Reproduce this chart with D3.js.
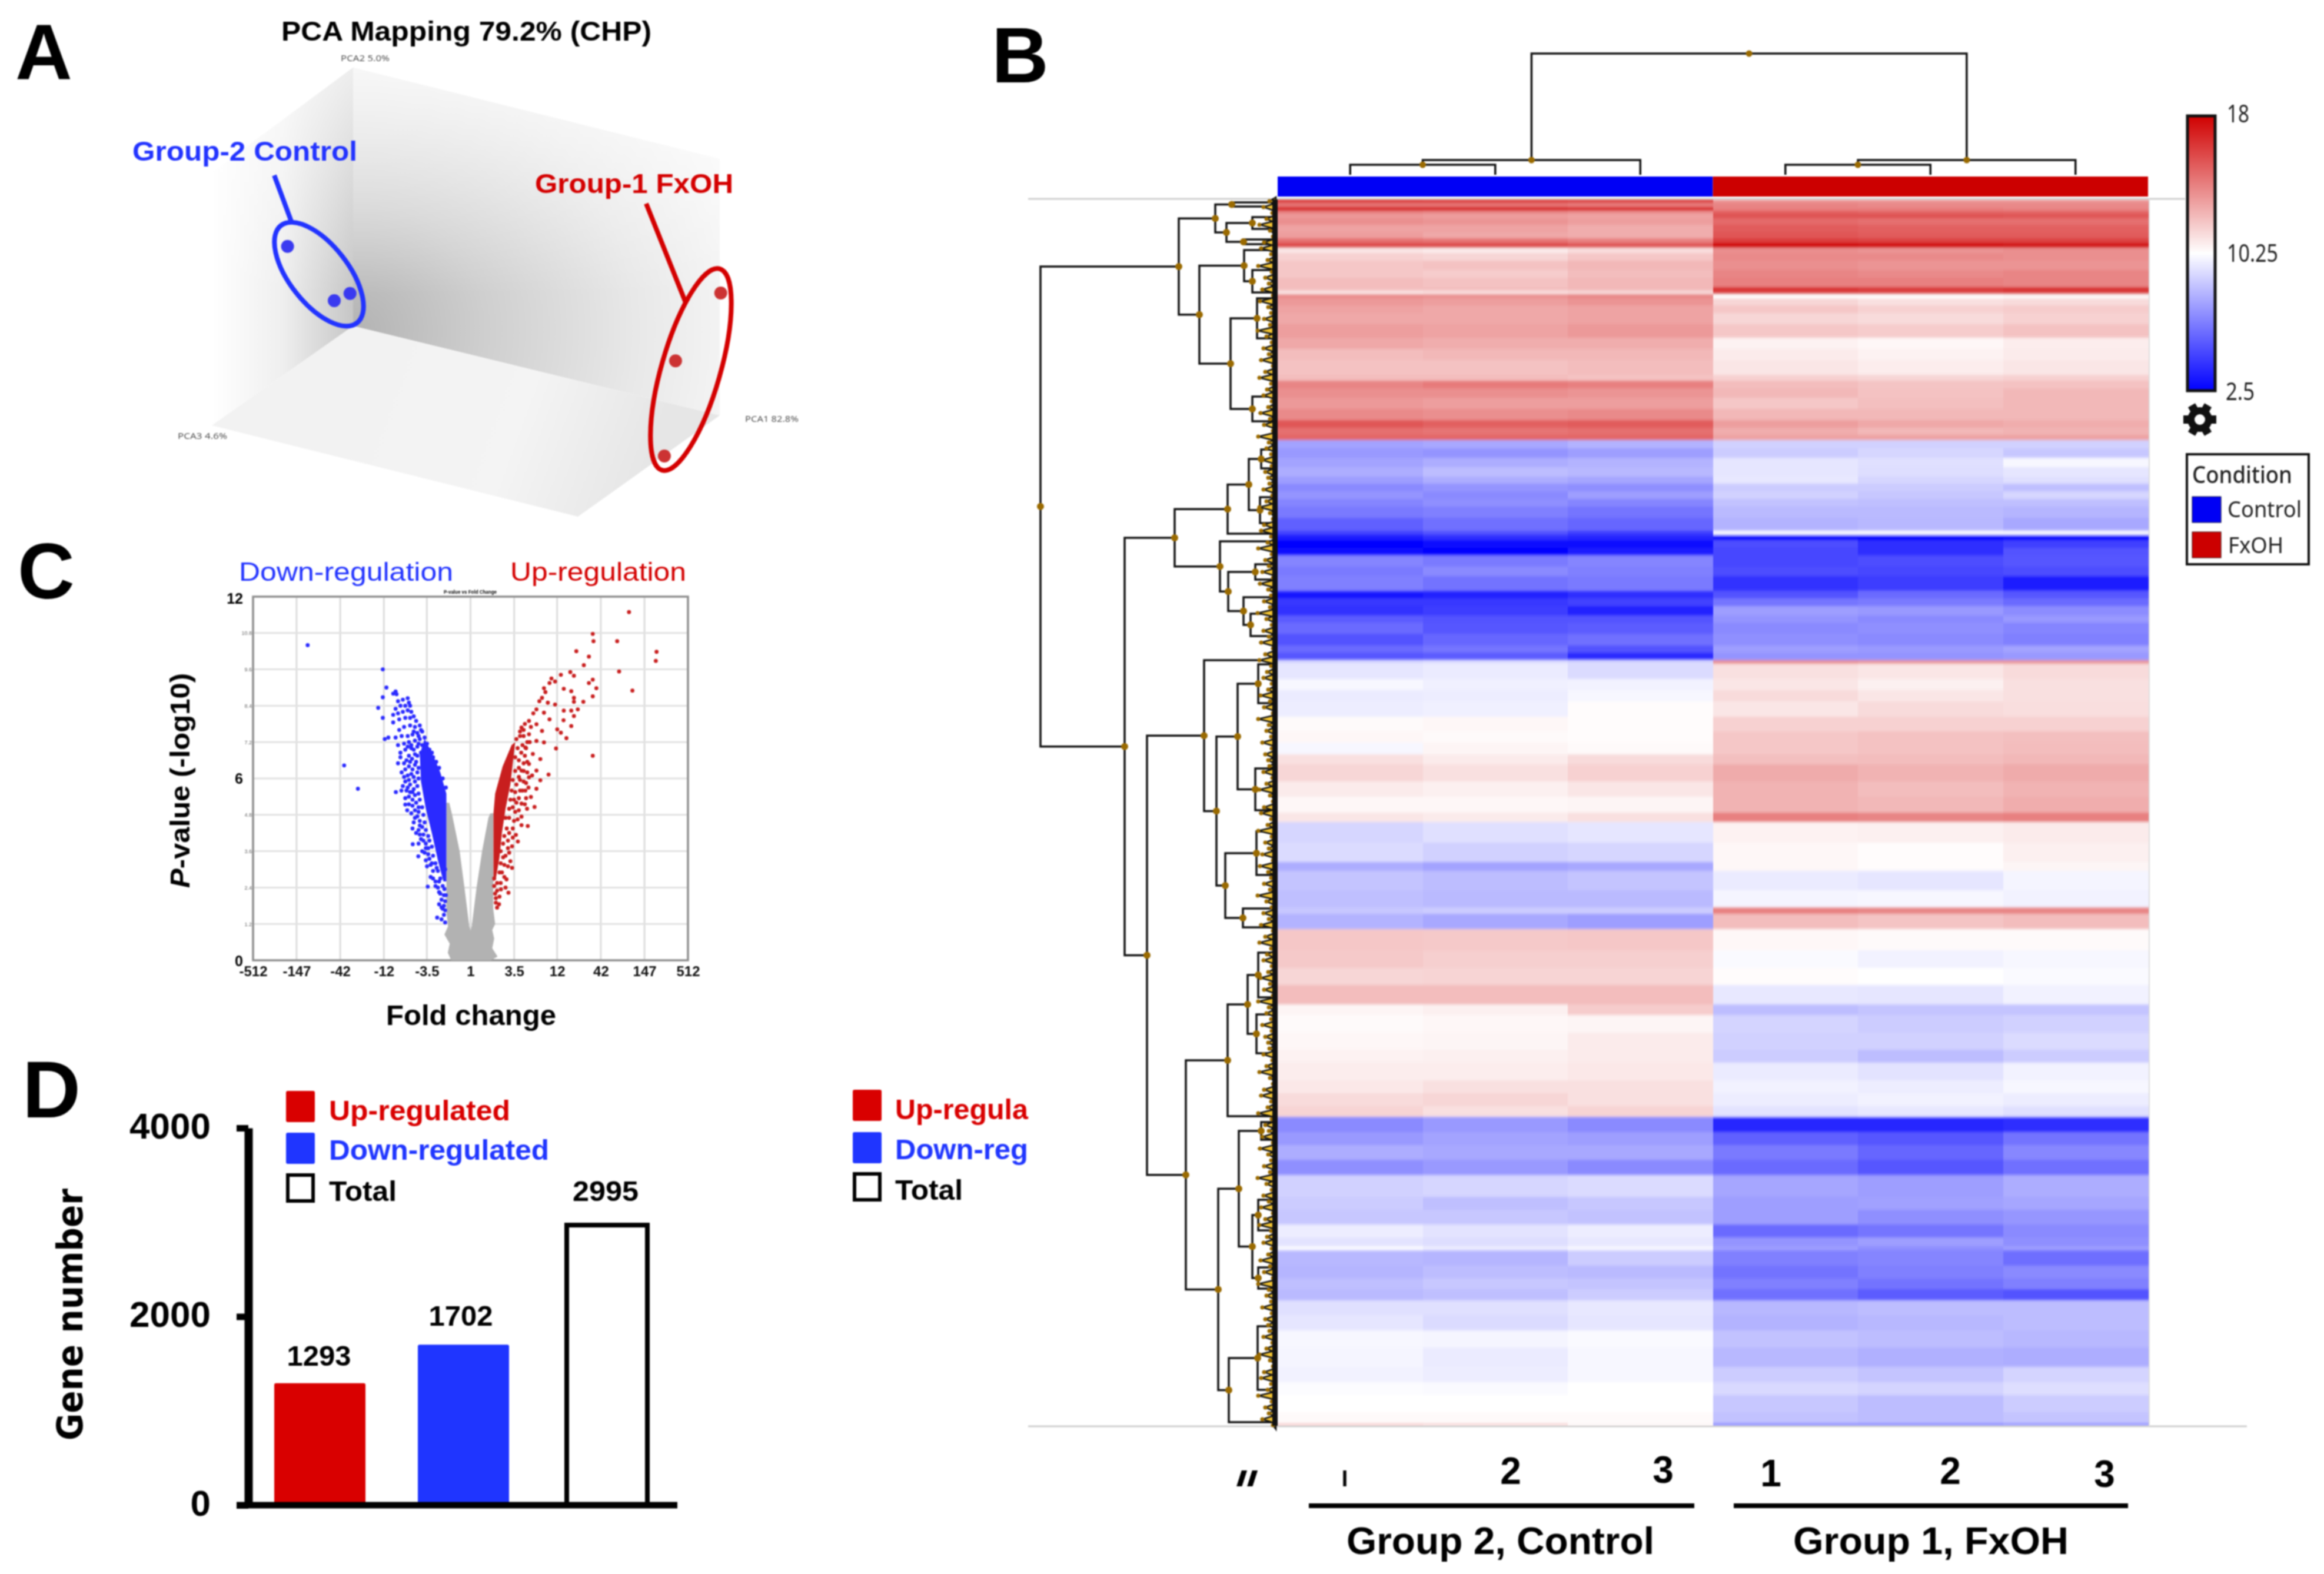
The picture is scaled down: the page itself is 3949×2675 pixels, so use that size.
<!DOCTYPE html>
<html><head><meta charset="utf-8">
<script src="https://cdnjs.cloudflare.com/ajax/libs/d3/7.8.5/d3.min.js"></script>
<style>html,body{margin:0;padding:0;background:#fff}svg{display:block;filter:blur(0.8px)}text{font-family:"Liberation Sans",Arial,sans-serif}</style>
</head><body><svg id="c" width="3949" height="2675" viewBox="0 0 3949 2675"></svg>
<script>
// ---------- Panel A data (projected position in the box, percent) ----------
const pcaControl=[[14.9,39.8],[24.1,51.9],[27.2,50.3]];
const pcaFxOH=[[100.2,50.2],[91.3,65.3],[89.1,86.5]];
// ---------- Panel C data: log2 fold change, -log10 p ----------
const foldTicks=[-512,-147,-42,-12,-3.5,1,3.5,12,42,147,512];
const pTicks=[0,1.2,2.4,3.6,4.8,6,7.2,8.4,9.6,10.8,12];
const grayCloud=[[-1,5.2],[-1,1.6],[-.93,1.12],[-1.08,.85],[-.86,.55],[-.94,.25],[-.8,0],[.85,0],[1.12,.12],[.9,.4],[.98,.72],[.9,1],[1.02,1.2],[.94,1.7],[.95,4.85],[.82,4.85],[.74,4.7],[.48,3.6],[.25,2.4],[.05,1.12],[0,.98],[-.05,1.12],[-.25,2.4],[-.45,3.6],[-.76,4.8],[-.88,5.2]];
const blueCore=[[-1,5.5],[-1.25,6.2],[-1.46,6.6],[-1.7,7],[-1.9,7.3],[-2.1,6.8],[-2.05,5.9],[-1.85,5],[-1.6,4.2],[-1.35,3.3],[-1.12,2.6],[-1,2.6]];
const bluePoints=[[-6.74,10.4],[-5.23,6.43],[-4.66,5.66],[-3.63,9.6],[-3.48,9],[-3.63,8.68],[-3.82,8.33],[-3.63,8],[-3.1,8.87],[-3.06,8.78],[-1.77,2.43],[-1.38,1.41],[-2.39,3.83],[-2.16,3.43],[-3.09,5.55],[-2.86,5.6],[-2.7,5.14],
[-3.2,8.8],[-3,8.55],[-2.8,8.6],[-2.6,8.65],[-2.55,8.5],[-2.5,8.4],[-2.7,8.4],[-2.9,8.4],[-3.1,8.3],[-3.2,8.1],[-3,8.15],[-2.8,8.2],[-2.6,8.25],[-2.45,8.2],[-2.35,8.05],[-2.5,8],[-2.7,8],[-2.95,7.95],[-3.2,7.85],[-2.25,7.9],[-2.1,7.75],[-2.3,7.7],[-2.5,7.75],[-2.75,7.7],[-2.95,7.6],[-2,7.55],[-2.2,7.5],[-2.4,7.45],[-2.6,7.4],[-2.85,7.4],[-3.1,7.35],[-3.4,7.35],[-3.55,7.3],[-1.9,7.35],[-2.1,7.3],[-2.3,7.25],[-2.55,7.2],[-2.75,7.15],[-3,7.1],[-1.8,7.15],[-2,7.1],[-2.2,7.05],[-2.45,7],[-2.7,6.95],[-2.9,6.85],[-1.7,6.95],[-1.85,6.9],[-2.05,6.85],[-2.3,6.8],[-2.55,6.75],[-2.9,6.7],[-3,6.5],[-2.75,6.5],[-2.5,6.55],[-1.55,6.7],[-2.25,6.55],[-1.95,6.55],[-2.7,6.3],[-2.4,6.3],[-2.15,6.35],[-2.85,6.2],[-2.6,6.1],[-2.35,6.05],[-2.7,5.9],[-2.5,5.8],[-2.35,5.65],[-2.65,5.6],[-2.55,5.4],[-2.4,5.3],[-2.25,5.2],[-2.55,5.15],[-2.3,4.95],[-2.2,4.75],[-2.1,4.6],[-2.35,4.55],[-2,4.4],[-2.15,4.3],[-1.95,4.15],[-2.05,4],[-1.85,3.85],[-1.75,3.7],[-1.9,3.55],[-1.7,3.35],[-1.6,3.2],[-1.8,3.1],[-1.55,2.95],[-1.65,2.75],[-1.45,2.6],[-1.35,2.4],[-1.25,2.2],[-1.2,2],[-1.3,1.85],[-1.15,1.7],[-1.1,1.5],[-1.2,1.35],[-1.05,1.25],[-1.02,5.7],[-1.15,6],[-1.3,6.35],[-1.42,6.55],[-1.6,6.85],[-1.05,1.95],[-1.1,1.8],[-1.05,3],[-1.25,2.7],[-1.4,3.05],
[-2.05,7.6],[-2.15,7.4],[-2.35,7.55],[-2.45,7.1],[-2.15,7.15],[-2.35,6.95],[-2.6,7.05],[-2.2,6.75],[-2.42,6.65],[-2.65,6.6],[-2.3,6.45],[-2.55,6.4],[-2.2,6.2],[-2.45,6.15],[-2.75,6.05],[-2.15,6],[-2.3,5.9],[-2.55,5.95],[-2.8,5.75],[-2.2,5.75],[-2.4,5.55],[-2.6,5.7],[-2.15,5.5],[-2.3,5.45],[-2.5,5.55],[-2.7,5.35],[-2.1,5.3],[-2.4,5.1],[-2.15,5.05],[-2.62,4.95],[-2,5.05],[-2.45,4.85],[-2.15,4.9],[-1.95,4.8],[-2.3,4.7],[-2.4,4.35],[-2.1,4.45],[-1.9,4.55],[-2.25,4.2],[-1.85,4.3],[-2.1,4.15],[-1.75,4.1],[-1.95,3.95],[-2.15,3.85],[-1.7,3.95],[-1.85,3.7],[-2,3.6],[-1.6,3.75],[-1.75,3.5],[-1.55,3.45],[-1.85,3.3],[-1.65,3.15],[-1.45,3.2],[-1.35,2.95],[-1.55,2.7],[-1.3,2.6],[-1.45,2.45],[-1.15,2.45],[-1.3,2.25],[-1.1,2.15],[-1.2,1.75],[-1.05,1.65],[-1.08,2.35],[-1.02,2.15]];
const redCore=[[.95,2.6],[.95,4.85],[1.02,5.5],[1.33,6.4],[1.7,7.1],[1.85,7.2],[1.75,6.5],[1.65,5.8],[1.45,5],[1.3,4.2],[1.2,3.4],[1.05,2.7]];
const redPoints=[[6.56,11.49],[5.06,10.77],[5.09,10.53],[6.07,10.53],[4.38,10.2],[4.9,10.02],[7.7,10.18],[7.67,9.88],[4.69,9.74],[6.15,9.53],[6.7,8.9],[4.13,9.51],[3.74,9.42],[4.28,9.39],[5.06,9.26],[4.9,9.15],[5.21,8.98],[3.86,8.96],[4.17,8.88],[5.06,8.71],[4.28,8.66],[4.67,8.53],[4.28,8.53],[4.44,8.28],[4.17,8.24],[3.86,8.24],[4.28,8.06],[3.85,7.92],[4.17,7.73],[3.59,7.62],[3.74,7.51],[3.97,7.33],[3.54,6.99],[5.06,6.75],[3.23,6.13],
[3.04,8.98],[3.27,9.15],[3.5,9.2],[2.96,8.66],[3.2,8.5],[3.5,8.44],[2.73,8.28],[3.04,8.17],[3.27,7.95],[2.42,7.9],[2.73,7.79],[2.96,7.57],[2.11,7.68],[2.42,7.46],[2.73,7.24],[3.04,7.19],[2.27,7.02],[2.58,6.81],[2.89,6.64],[2.42,6.48],[2.73,6.26],[2.11,6.26],[2.42,6.04],[2.89,5.94],[2.73,5.66],[2.27,5.6],[2.5,5.39],[2.65,5.06],[2.34,5],[2.11,5.17],[2.11,4.74],[2.37,4.43],[2.11,4.46],[1.88,4.14],[1.96,3.92],[1.72,3.76],[1.65,3.27],[1.72,3.05],[1.57,2.23],[1.49,2.67],[1.26,2.34],[1.18,1.85],[1.1,1.74],[3.35,9.3],[3.1,8.85],[2.85,8.55],[2.6,8.15],[2.25,7.8],[2.2,7.4],[2.5,7.7],[2.35,7.2],[2.15,7.1],[2.05,7.55],[2,6.6],[2.25,6.75],[2.2,5.9],[2.05,5.6],[1.9,5.2],[1.8,4.6],[1.6,4.2],[1.55,3.7],[1.4,3.15],[1.3,2.9],[1.1,2.3],[.98,2.45],[1.05,2.05],[1.85,4.9],[2,4.95],
[1.9,7.3],[2.05,7.4],[2.2,7.6],[1.95,7],[2.1,6.85],[2.3,7],[2.45,7.2],[1.85,6.7],[2,6.35],[2.2,6.5],[2.35,6.55],[1.85,6.25],[2,6.05],[2.2,6.25],[2.35,6.2],[1.75,5.95],[1.9,5.8],[2.05,5.95],[2.3,5.85],[2.55,6.1],[1.7,5.6],[1.85,5.55],[2.15,5.6],[2.4,5.7],[1.65,5.3],[1.8,5.3],[2,5.35],[2.3,5.35],[1.6,5],[1.75,5.05],[2.25,5.15],[1.45,4.7],[1.6,4.7],[1.75,4.35],[1.95,4.65],[1.5,4.35],[1.4,4.1],[1.75,4.05],[1.35,3.85],[1.55,3.95],[1.25,3.6],[1.45,3.45],[1.6,3.55],[1.25,3.2],[1.35,3.4],[1.55,3.1],[1.2,2.9],[1.4,2.75],[1.1,2.55],[1.25,2.55],[1.45,2.4],[1.02,2.2],[1.2,2.1],[1.05,1.9],[.98,2.7]];
// ---------- Panel D data ----------
const barCategories=["Up-regulated","Down-regulated","Total"];
const barValues=[1293,1702,2995];
const barTicks=[0,2000,4000];
// ---------- Panel B data ----------
const sampleNames=["Control 1","Control 2","Control 3","FxOH 1","FxOH 2","FxOH 3"];
const colorTicks=[["18",18],["10.25",10.25],["2.5",2.5]];
// each row: gene-block size, then six samples as percent of the colour range (-100 = 2.5, 0 = 10.25, 100 = 18)
const heatRows=[
[5,88,86,85,42,42,42],[8,55,55,52,48,46,46],[6,90,88,86,50,50,48],[5,50,48,45,62,60,60],[8,40,38,36,68,68,66],[11,44,42,38,58,56,56],[13,36,36,32,64,62,62],[10,38,34,32,66,64,64],[8,56,54,50,76,74,74],[8,72,72,68,100,98,95],
[9,10,8,13,44,42,44],[13,18,16,22,46,46,44],[16,22,24,28,44,42,42],[13,22,20,26,48,46,48],[16,26,24,28,50,50,48],[6,26,26,28,82,78,82],[6,10,12,14,74,72,76],[7,46,44,48,0,0,2],[12,40,38,42,16,12,14],[13,36,34,36,22,18,20],
[19,34,34,36,16,14,18],[23,38,36,40,22,20,24],[19,34,32,32,5,3,7],[19,26,28,28,8,5,8],[25,24,24,26,10,7,10],[10,26,26,24,18,16,18],[13,48,52,50,26,23,24],[16,44,44,42,28,24,28],[19,40,38,38,22,25,28],[19,46,44,46,28,28,28],
[13,66,62,64,38,34,32],[12,56,54,56,32,28,30],[9,60,60,60,36,36,36],
[14,-36,-34,-30,-18,-18,-18],[16,-40,-42,-38,-20,-16,-22],[16,-36,-32,-30,-10,-12,-3],[16,-32,-26,-28,-10,-13,-10],[12,-38,-32,-35,-9,-16,-12],[13,-46,-42,-44,-20,-20,-25],[13,-42,-46,-38,-18,-22,-16],[13,-48,-44,-48,-24,-25,-25],[19,-52,-50,-54,-27,-27,-29],[22,-62,-56,-60,-30,-28,-34],[7,-74,-68,-76,-2,-2,-2],[9,-88,-82,-85,-100,-100,-100],[13,-100,-96,-95,-70,-82,-75],[13,-95,-98,-90,-72,-82,-68],[19,-48,-52,-48,-72,-70,-66],[16,-52,-46,-50,-70,-72,-70],[25,-50,-55,-52,-80,-76,-88],[13,-92,-86,-82,-68,-58,-66],[13,-78,-78,-74,-54,-52,-58],[16,-80,-76,-86,-38,-40,-45],[12,-64,-68,-68,-42,-46,-40],[19,-58,-66,-64,-46,-44,-48],[20,-68,-60,-56,-44,-46,-50],[12,-58,-54,-68,-38,-40,-36],[13,-66,-64,-84,-42,-42,-40],
[6,-14,-12,-15,45,42,42],[26,-10,-8,-14,12,10,14],[19,-3,-6,-5,10,6,12],[19,-8,-7,-3,14,10,12],[26,-7,-6,1,10,14,13],[25,2,3,1,18,18,18],[19,3,2,1,22,24,25],[20,-3,4,2,22,24,26],[17,12,8,14,25,26,28],[29,16,12,18,33,30,33],[26,8,6,10,30,26,30],[26,3,3,4,30,28,32],[16,10,8,12,50,48,50],
[35,-16,-12,-10,5,6,8],[33,-14,-18,-16,3,1,6],[15,-32,-36,-34,3,1,4],[33,-23,-26,-23,-8,-10,-4],[29,-25,-27,-27,-4,-3,-5],[11,-22,-20,-20,50,48,48],[26,-30,-34,-38,26,23,26],[36,22,21,22,3,2,2],[30,21,19,19,-2,-5,-3],[29,16,17,17,1,0,-2],[33,26,26,26,-9,-10,-5],[18,4,6,20,-26,-23,-23],[30,2,3,4,-17,-20,-18],[29,3,4,8,-18,-18,-14],[22,5,6,8,-20,-26,-20],[30,7,7,9,-8,-11,-5],[22,9,12,12,-5,-7,-3],[22,14,16,12,-7,-5,-7],[18,17,12,17,-11,-9,-12],
[26,-46,-40,-46,-85,-85,-82],[22,-40,-36,-38,-62,-66,-55],[25,-32,-34,-34,-52,-60,-47],[26,-44,-40,-46,-58,-66,-56],[37,-18,-16,-14,-35,-38,-32],[22,-20,-25,-22,-38,-37,-35],[25,-22,-22,-24,-38,-44,-41],[22,-7,-11,-7,-58,-54,-46],[15,-11,-13,-9,-42,-38,-44],[7,-2,-7,-3,-38,-44,-38],[26,-28,-29,-20,-50,-48,-57],[22,-29,-26,-27,-55,-50,-46],[18,-25,-22,-23,-50,-55,-50],[19,-27,-25,-20,-56,-64,-68],[25,-12,-12,-9,-28,-26,-26],[26,-10,-14,-10,-30,-28,-26],[29,-3,-4,-2,-24,-26,-28],[33,-4,-8,-3,-28,-31,-32],[26,-5,-7,-3,-20,-23,-17],[22,-1,-2,0,-15,-17,-13],[29,0,0,0,-22,-26,-20],[19,2,2,2,-24,-26,-23],[3,22,18,4,-52,-52,-48]];
// row dendrogram: [merge distance, child, child]; a plain number is a leaf at that gene offset
const rowTree=[403,
 [168,
  [106,[78,5,12],[87,[43,30,50],[58,68,76]]],
  [133,[57,86,[43,120,158]],[80,[35,168,236],[43,335,377]]]],
 [260,
  [175,
   [85,[49,[28,425,457],[30,506,550]],568],
   [98,581,[84,[38,620,646],[58,676,[46,704,742]]]]],
  [222,
   [125,783,[104,[68,[33,790,856],[38,967,1038]],[89,[36,1074,1148],[59,1205,1237]]]],
   [156,
    [85,[51,[33,1280,1356],[36,1385,1451]],1558],
    [101,[66,[28,1568,1598],[43,[33,1700,1752],[33,1815,1851]]],[83,[34,1915,2023],2078]]]]]];
// column dendrogram: merge distance, leaves are sample indices
const colTree=[206,[25,[17,0,1],2],[25,[17,3,4],5]];
// small terminal branches next to the heatmap (depth of each, in dendrogram distance)
const fineDepths=[14,24,9,19,31,13,8,23,28,11,17,33,10,21,15,26,8,30,16,11,23,13,34,19,10,24,15,28,8,21,31,11,18,24,10,16,29,13,23,8,33,15,19,11,26,10,21,16];

const svg=d3.select("#c");
const defs=svg.append("defs");
function label(g,x,y,s,o={}){
  const t=g.append("text").attr("x",x).attr("y",y).text(s)
   .attr("font-size",o.fs||40).attr("font-weight",o.w||"bold").attr("fill",o.fill||"#000")
   .attr("text-anchor",o.a||"start");
  if(o.family)t.style("font-family",o.family);
  if(o.style)t.attr("font-style",o.style);
  if(o.len)t.attr("textLength",o.len).attr("lengthAdjust","spacingAndGlyphs");
  if(o.rot)t.attr("transform",`rotate(${o.rot} ${x} ${y})`);
  return t;
}
function radial(id,cx,cy,r,stops){
  const g=defs.append("radialGradient").attr("id",id).attr("gradientUnits","userSpaceOnUse")
   .attr("cx",cx).attr("cy",cy).attr("r",r);
  stops.forEach(s=>g.append("stop").attr("offset",s[0]).attr("stop-color",s[1]));
}
function grad(id,x1,y1,x2,y2,stops){
  const g=defs.append("linearGradient").attr("id",id).attr("gradientUnits","userSpaceOnUse")
   .attr("x1",x1).attr("y1",y1).attr("x2",x2).attr("y2",y2);
  stops.forEach(s=>{const st=g.append("stop").attr("offset",s[0]).attr("stop-color",s[1]);if(s[2]!==undefined)st.attr("stop-opacity",s[2]);});
}
const BLUE="#2233ff",RED="#d40000";
// panel letters
[["A",26,135,134],["B",1685,140,134],["C",30,1017,134],["D",38,1899,137]].forEach(d=>label(svg,d[1],d[2],d[0],{fs:d[3]}));

// ---------- Panel A ----------
(function(){
 const g=svg.append("g");
 const px=d3.scaleLinear().domain([0,100]).range([360,1223]);
 const py=d3.scaleLinear().domain([0,100]).range([115,878]);
 grad("wallL",360,0,600,0,[[0,"#ffffff"],[.5,"#efefef"],[1,"#c6c6c6"]]);
 radial("wallB",610,560,720,[[0,"#b4b4b4"],[.3,"#cfcfcf"],[.65,"#e8e8e8"],[1,"#fbfbfb"]]);
 grad("fadeTop",0,115,0,500,[[0,"#ffffff",.7],[1,"#ffffff",0]]);
 grad("floor",560,600,1100,800,[[0,"#f2f2f2"],[.6,"#f4f4f4"],[1,"#e6e6e6"]]);
 const poly=(p,f)=>g.append("path").attr("d",d3.line()(p)+"Z").attr("fill",f);
 const left=[[360,293],[600,115],[600,554],[360,723]],back=[[600,115],[1223,270],[1223,706],[600,554]];
 poly(left,"url(#wallL)");
 poly(back,"url(#wallB)");
 poly(left,"url(#fadeTop)");
 poly(back,"url(#fadeTop)");
 poly([[600,554],[1223,706],[982,878],[360,723]],"url(#floor)");
 label(g,579,104,"PCA2 5.0%",{fs:15,w:"normal",fill:"#555",len:83,family:"Noto Sans"});
 label(g,302,746,"PCA3 4.6%",{fs:15,w:"normal",fill:"#555",len:84,family:"Noto Sans"});
 label(g,1266,717,"PCA1 82.8%",{fs:15,w:"normal",fill:"#555",len:91,family:"Noto Sans"});
 label(g,478,69,"PCA Mapping 79.2% (CHP)",{fs:47,len:629});
 label(g,225,273,"Group-2 Control",{fs:46,fill:BLUE,len:382});
 label(g,909,328,"Group-1 FxOH",{fs:46,fill:RED,len:337});
 g.append("line").attr("x1",466).attr("y1",298).attr("x2",496).attr("y2",379).attr("stroke",BLUE).attr("stroke-width",8);
 g.append("line").attr("x1",1098).attr("y1",346).attr("x2",1165).attr("y2",514).attr("stroke",RED).attr("stroke-width",8);
 g.append("ellipse").attr("rx",105).attr("ry",50).attr("transform","translate(542,466) rotate(52)").attr("fill","none").attr("stroke",BLUE).attr("stroke-width",8);
 g.append("ellipse").attr("rx",178).attr("ry",50).attr("transform","translate(1174,628) rotate(-74)").attr("fill","none").attr("stroke",RED).attr("stroke-width",8);
 g.selectAll(".pc").data(pcaControl).join("circle").attr("cx",d=>px(d[0])).attr("cy",d=>py(d[1])).attr("r",11).attr("fill","#3a3af0");
 g.selectAll(".pr").data(pcaFxOH).join("circle").attr("cx",d=>px(d[0])).attr("cy",d=>py(d[1])).attr("r",11).attr("fill","#cc3333");
})();

// ---------- Panel C ----------
(function(){
 const g=svg.append("g");
 const L=430,R=1169,T=1014,B=1632;
 const x=d3.scaleLinear().domain([-9,9]).range([L,R]);
 const y=d3.scaleLinear().domain([0,12]).range([B,T]);
 const sl=f=>Math.sign(f)*Math.log2(Math.abs(f));
 g.selectAll(".gx").data(foldTicks).join("line").attr("x1",d=>x(sl(d))).attr("x2",d=>x(sl(d))).attr("y1",T).attr("y2",B).attr("stroke","#dcdcdc").attr("stroke-width",3);
 g.selectAll(".gy").data(pTicks).join("line").attr("x1",L).attr("x2",R).attr("y1",d=>y(d)).attr("y2",d=>y(d)).attr("stroke","#e2e2e2").attr("stroke-width",3);
 const line=d3.line().x(d=>x(d[0])).y(d=>y(d[1]));
 g.append("rect").attr("x",L).attr("y",T).attr("width",R-L).attr("height",B-T).attr("fill","none").attr("stroke","#8f8f8f").attr("stroke-width",3.5);
 g.append("path").attr("d",line(grayCloud)+"Z").attr("fill","#b2b2b2");
 g.append("path").attr("d",line(blueCore)+"Z").attr("fill","#2a2aff");
 g.append("path").attr("d",line(redCore)+"Z").attr("fill","#c81e1e");
 g.selectAll(".bp").data(bluePoints).join("circle").attr("cx",d=>x(d[0])).attr("cy",d=>y(d[1])).attr("r",3.4).attr("fill","#2a2aff");
 g.selectAll(".rp").data(redPoints).join("circle").attr("cx",d=>x(d[0])).attr("cy",d=>y(d[1])).attr("r",3.4).attr("fill","#c81e1e");
 const ax=g.append("g").attr("transform",`translate(0,${B})`).call(d3.axisBottom(x).tickValues(foldTicks.map(sl)).tickFormat((d,i)=>String(foldTicks[i])).tickSize(0));
 ax.select(".domain").remove();
 ax.selectAll("text").attr("y",27).attr("dy",0).attr("font-size",24).attr("font-weight","bold").attr("fill","#111").style("font-family","Liberation Sans");
 const ay=g.append("g").attr("transform",`translate(${L},0)`).call(d3.axisLeft(y).tickValues(pTicks.slice(1,-1).filter(d=>d!==6)).tickSize(0).tickFormat(d=>d.toFixed(1)));
 ay.select(".domain").remove();
 ay.selectAll("text").attr("x",-2).attr("dy","0.32em").attr("font-size",9).attr("fill","#666").style("font-family","Liberation Sans");
 [["12",12,12],["6",6,9],["0",0,10]].forEach(d=>label(g,413,y(d[1])+d[2],d[0],{fs:25,a:"end"}));
 label(g,406,987,"Down-regulation",{fs:44,w:"normal",fill:"#2233ff",len:364});
 label(g,867,987,"Up-regulation",{fs:44,w:"normal",fill:RED,len:299});
 label(g,799,1009,"P-value vs Fold Change",{fs:9,a:"middle",len:90});
 label(g,656,1742,"Fold change",{fs:49,len:289});
 const t=label(g,322,1509,"",{fs:47,rot:-90,len:365});
 t.append("tspan").attr("font-style","italic").text("P");
 t.append("tspan").text("-value (-log10)");
})();

// ---------- Panel D ----------
(function(){
 const g=svg.append("g");
 const y=d3.scaleLinear().domain([0,4000]).range([2558,1917]);
 const x=d3.scaleBand().domain(barCategories).range([466,1109]).paddingInner(1-155/244).paddingOuter(0);
 const fills=[ "#d90000","#1f35ff","none"];
 g.selectAll(".bar").data(barValues).join("rect")
  .attr("x",(d,i)=>x(barCategories[i])+(i==2?9:0)).attr("width",(d,i)=>x.bandwidth()-(i==2?18:0))
  .attr("y",(d,i)=>y(d)+(i==2?4:0)).attr("height",(d,i)=>y(0)-y(d)-(i==2?4:0))
  .attr("rx",(d,i)=>i==2?0:3)
  .attr("fill",(d,i)=>fills[i]).attr("stroke",(d,i)=>i==2?"#000":"none").attr("stroke-width",8);
 const ax=g.append("g").attr("transform","translate(422,0)").call(d3.axisLeft(y).tickValues(barTicks).tickFormat(String).tickSize(20).tickSizeOuter(0));
 ax.select(".domain").attr("stroke-width",14).attr("stroke","#000");
 ax.selectAll("line").attr("stroke-width",11).attr("stroke","#000");
 ax.selectAll("text").attr("x",-64).attr("dy",0).attr("y",17).attr("font-size",62).attr("font-weight","bold").attr("fill","#000").style("font-family","Liberation Sans");
 g.append("line").attr("x1",402).attr("x2",1151).attr("y1",2558).attr("y2",2558).attr("stroke","#000").attr("stroke-width",11);
 const lblX=[542,783,1029],lblY=[2321,2253,2041];
 barValues.forEach((v,i)=>label(g,lblX[i],lblY[i],String(v),{fs:49,a:"middle",len:[109,109,112][i]}));
 label(g,140,2448,"Gene number",{fs:60,rot:-90,len:428,style:"normal"}).style("font-family","DejaVu Sans");
 // two legends
 const leg=(xs,xt,ys,names,lens)=>{
  const cols=["#d90000","#1f35ff",null];
  const ty=[ys[0]+50,ys[1]+46,ys[2]+47];
  names.forEach((n,i)=>{
   if(cols[i]) g.append("rect").attr("x",xs).attr("y",ys[i]).attr("width",49).attr("height",53).attr("rx",3).attr("fill",cols[i]);
   else g.append("rect").attr("x",xs+3).attr("y",ys[i]+3).attr("width",43).attr("height",44).attr("fill","none").attr("stroke","#000").attr("stroke-width",6);
   label(g,xt,ty[i],n,{fs:48,fill:cols[i]||"#000",len:lens[i]});
  });
 };
 leg(486,559,[1854,1925,1994],barCategories,[308,374,115]);
 leg(1449,1521,[1852,1924,1992],["Up-regula","Down-reg","Total"],[226,226,115]);
})();

// ---------- Panel B ----------
(function(){
 const g=svg.append("g");
 const X0=2171,X1=3650,Y0=339,Y1=2423;
 const x=d3.scaleBand().domain(d3.range(6)).range([X0,X1]);
 let c=0;const tops=heatRows.map(r=>{const t=c;c+=r[0];return t;});
 const y=d3.scaleLinear().domain([0,c]).range([Y0,Y1]);
 const color=d3.scaleLinear().domain([-100,0,100]).range(["#0000ff","#ffffff","#d00000"]);
 g.append("line").attr("x1",1747).attr("x2",3713).attr("y1",338).attr("y2",338).attr("stroke","#cfcfcf").attr("stroke-width",3);
 g.append("line").attr("x1",1747).attr("x2",3818).attr("y1",2424).attr("y2",2424).attr("stroke","#cfcfcf").attr("stroke-width",3);
 g.append("line").attr("x1",3652).attr("x2",3652).attr("y1",338).attr("y2",2424).attr("stroke","#dddddd").attr("stroke-width",2);
 defs.append("filter").attr("id","soft").attr("x",0).attr("y",0).attr("width",1).attr("height",1).append("feGaussianBlur").attr("stdDeviation","0 2");
 const hm=g.append("g").attr("filter","url(#soft)");
 heatRows.forEach((r,ri)=>{
  hm.selectAll(null).data(r.slice(1)).join("rect")
   .attr("x",(d,i)=>x(i)).attr("width",x.bandwidth()+.5)
   .attr("y",Math.floor(y(tops[ri]))).attr("height",Math.ceil(y(tops[ri]+r[0]))-Math.floor(y(tops[ri])))
   .attr("fill",d=>color(d)).attr("shape-rendering","crispEdges");
 });
 g.append("rect").attr("x",x(0)).attr("y",300).attr("width",x.bandwidth()*3).attr("height",34).attr("fill","#0000f5");
 g.append("rect").attr("x",x(3)).attr("y",300).attr("width",x.bandwidth()*3).attr("height",34).attr("fill","#cc0000");

 const dx=d3.scaleLinear().domain([0,403]).range([X0,1768]);
 const dy=d3.scaleLinear().domain([0,2084]).range([Y0,Y1]);
 const nodeColor="#9a6a00";
 const tree=(data,posFn,hFn,horizontal,r,thin)=>{
  const root=d3.hierarchy(data,n=>Array.isArray(n)?n.slice(1):null);
  root.eachAfter(n=>{
    n.p=n.children?d3.mean(n.children,c=>c.p):posFn(n.data);
    n.h=n.children?n.data[0]:0;
  });
  const path=d3.path();
  root.descendants().filter(n=>n.children).forEach(n=>{
   n.children.forEach(c=>{
    if(horizontal){path.moveTo(hFn(n.h),n.p);path.lineTo(hFn(n.h),c.p);path.lineTo(hFn(c.h),c.p);}
    else{path.moveTo(n.p,hFn(n.h));path.lineTo(c.p,hFn(n.h));path.lineTo(c.p,hFn(c.h));}
   });
  });
  g.append("path").attr("d",path.toString()).attr("fill","none").attr("stroke","#111").attr("stroke-width",thin);
  g.selectAll(null).data(root.descendants().filter(n=>n.children)).join("circle")
   .attr("cx",n=>horizontal?hFn(n.h):n.p).attr("cy",n=>horizontal?n.p:hFn(n.h)).attr("r",r).attr("fill",nodeColor);
 };
 tree(rowTree,d=>dy(d),dx,true,6,3.5);
 const topY=d3.scaleLinear().domain([0,206]).range([297,91]);
 tree(colTree,i=>x(i)+x.bandwidth()/2,topY,false,5.5,3.5);

 // fine branches next to the heatmap, outlined yellow wedges
 const fine=g.append("g");
 const step=10;
 const fineY=d3.range(3,2084,step);
 const depth=i=>fineDepths[i%fineDepths.length];
 fine.selectAll(".tri").data(fineY).join("path").attr("fill","#f3c432").attr("stroke","#111").attr("stroke-width",2.6)
  .attr("d",(d,i)=>{const dp=depth(i),p=dy(d);return d3.line()([[dx(dp),p],[X0-3,p-7],[X0-3,p+7]])+"Z";});
 fine.selectAll(".nd").data(fineY).join("circle").attr("cx",(d,i)=>dx(depth(i))).attr("cy",d=>dy(d)).attr("r",3.5).attr("fill",nodeColor);
 fine.append("rect").attr("x",X0-9).attr("y",Y0).attr("width",9).attr("height",Y1-Y0).attr("fill","#111");

 // colour bar
 grad("cb",0,196,0,665,[[0,"#d00000"],[.5,"#ffffff"],[1,"#0000ff"]]);
 g.append("rect").attr("x",3717).attr("y",197).attr("width",47).attr("height",467).attr("fill","url(#cb)").attr("stroke","#111").attr("stroke-width",5);
 const cy=d3.scaleLinear().domain([2.5,18]).range([665,196]);
 const uiFont="Noto Sans";
 colorTicks.forEach((t,i)=>label(g,i==2?3782:3784,cy(t[1])+[12,14,15][i],t[0],{fs:42,w:"normal",fill:"#222",family:uiFont,len:[38,87,49][i]}));
 const gear=g.append("g").attr("transform","translate(3738,713)");
 gear.append("path").attr("d",d3.arc().innerRadius(9).outerRadius(21).startAngle(0).endAngle(2*Math.PI)()).attr("fill","#111");
 d3.range(6).forEach(i=>gear.append("rect").attr("x",-7).attr("y",-28).attr("width",14).attr("height",12).attr("fill","#111").attr("transform",`rotate(${i*60+30})`));
 g.append("rect").attr("x",3716).attr("y",772).attr("width",207).attr("height",187).attr("fill","#fff").attr("stroke","#111").attr("stroke-width",4);
 label(g,3725,821,"Condition",{fs:40,w:"500",fill:"#222",family:uiFont,len:170});
 g.append("rect").attr("x",3725).attr("y",844).attr("width",49).attr("height",44).attr("fill","#0000f5").attr("stroke","#113",'stroke-width',2);
 g.append("rect").attr("x",3725).attr("y",904).attr("width",49).attr("height",44).attr("fill","#cc0000").attr("stroke","#311",'stroke-width',2);
 label(g,3785,879,"Control",{fs:38,w:"normal",fill:"#222",family:uiFont,len:126});
 label(g,3786,940,"FxOH",{fs:38,w:"normal",fill:"#222",family:uiFont,len:94});

 label(g,2100,2526,"II",{fs:38,w:"bold",style:"italic",len:36});
 label(g,2285,2526,"I",{fs:38,w:"bold",a:"middle"});
 [["2",2567,2522],["3",2826,2520],["1",3009,2526],["2",3314,2522],["3",3576,2527]].forEach(d=>label(g,d[1],d[2],d[0],{fs:64,a:"middle"}));
 g.append("rect").attr("x",2224).attr("y",2555).attr("width",655).attr("height",8).attr("fill","#000");
 g.append("rect").attr("x",2946).attr("y",2555).attr("width",670).attr("height",8).attr("fill","#000");
 label(g,2288,2641,"Group 2, Control",{fs:65,len:523});
 label(g,3047,2641,"Group 1, FxOH",{fs:65,len:468});
})();
</script></body></html>
